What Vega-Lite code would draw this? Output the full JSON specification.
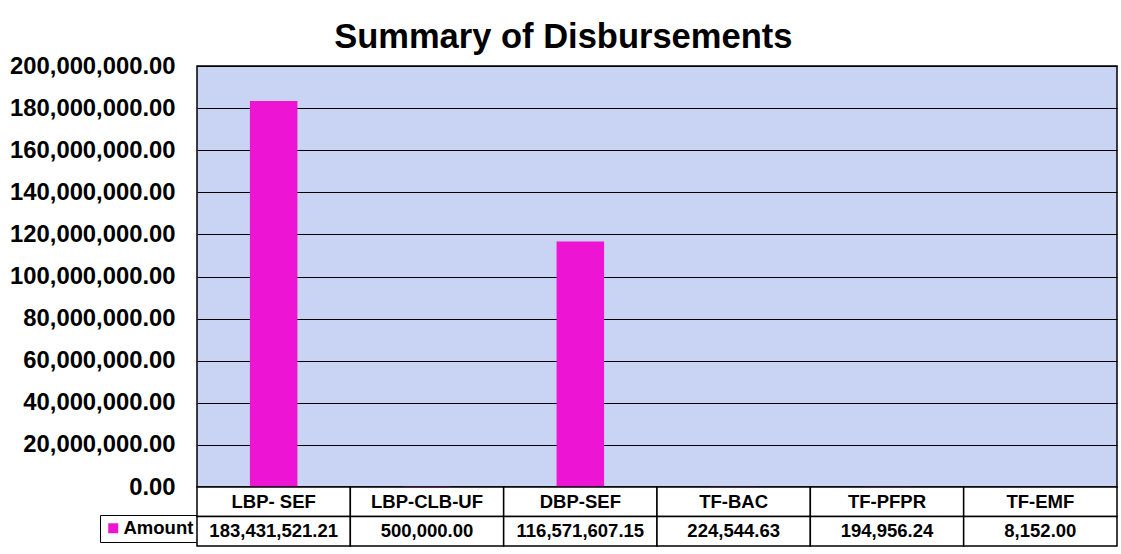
{
  "$schema": "https://vega.github.io/schema/vega-lite/v6.json",
  "background": "white",
  "padding": {"left": 8, "top": 19, "right": 4, "bottom": 5},
  "bounds": "flush",
  "title": {"text": "Summary of Disbursements", "fontSize": 34.5, "font": "Liberation Sans", "fontWeight": "bold", "color": "black", "anchor": "middle", "offset": -2},
  "data": {"values": [
    {"category": "LBP- SEF", "amount": 183431521.21},
    {"category": "LBP-CLB-UF", "amount": 500000.00},
    {"category": "DBP-SEF", "amount": 116571607.15},
    {"category": "TF-BAC", "amount": 224544.63},
    {"category": "TF-PFPR", "amount": 194956.24},
    {"category": "TF-EMF", "amount": 8152.00}
  ]},
  "spacing": 0,
  "resolve": {"legend": {"color": "independent"}},
  "vconcat": [
    {
      "width": 920,
      "height": 421,
      "view": {"fill": "#c9d3f3", "stroke": "black", "strokeWidth": 1.5},
      "mark": {"type": "bar", "width": {"band": 0.31}},
      "encoding": {
        "x": {"field": "category", "type": "nominal", "sort": null, "axis": null, "scale": {"paddingInner": 0, "paddingOuter": 0}},
        "y": {"field": "amount", "type": "quantitative",
          "scale": {"domain": [0, 200000000], "nice": false},
          "axis": {"title": null, "values": [0, 20000000, 40000000, 60000000, 80000000, 100000000, 120000000, 140000000, 160000000, 180000000, 200000000],
            "format": ",.2f", "labelFont": "Liberation Sans", "labelFontSize": 23.8, "labelFontWeight": "bold", "labelColor": "black",
            "labelPadding": 22, "ticks": false, "domain": false, "grid": true, "gridColor": "black", "gridOpacity": 1, "gridWidth": 1.2}},
        "color": {"datum": "Amount", "type": "nominal", "scale": {"range": ["#ee14d4"]},
          "legend": {"title": null, "orient": "none", "legendX": -97, "legendY": 449, "symbolType": "square", "symbolSize": 100, "symbolStrokeWidth": 0,
            "labelFont": "Liberation Sans", "labelFontSize": 18.5, "labelFontWeight": "bold", "labelColor": "black", "labelOffset": 1,
            "strokeColor": "black", "fillColor": "white", "padding": 4}}
      }
    },
    {
      "width": 920,
      "height": 59,
      "view": {"stroke": null},
      "encoding": {
        "x": {"field": "category", "type": "nominal", "sort": null, "axis": null, "scale": {"paddingInner": 0, "paddingOuter": 0}}
      },
      "layer": [
        {"mark": {"type": "rect", "fill": "white", "stroke": "black", "strokeWidth": 1.5},
         "encoding": {"y": {"datum": "name", "type": "nominal", "axis": null, "scale": {"domain": ["name", "value"], "paddingInner": 0, "paddingOuter": 0}}}},
        {"mark": {"type": "rect", "fill": "white", "stroke": "black", "strokeWidth": 1.5},
         "encoding": {"y": {"datum": "value", "type": "nominal"}}},
        {"mark": {"type": "text", "font": "Liberation Sans", "fontSize": 18.5, "fontWeight": "bold", "color": "black"},
         "encoding": {"y": {"datum": "name", "type": "nominal"}, "text": {"field": "category"}}},
        {"mark": {"type": "text", "font": "Liberation Sans", "fontSize": 18.5, "fontWeight": "bold", "color": "black"},
         "encoding": {"y": {"datum": "value", "type": "nominal"}, "text": {"field": "amount", "type": "quantitative", "format": ",.2f"}}}
      ]
    }
  ]
}
